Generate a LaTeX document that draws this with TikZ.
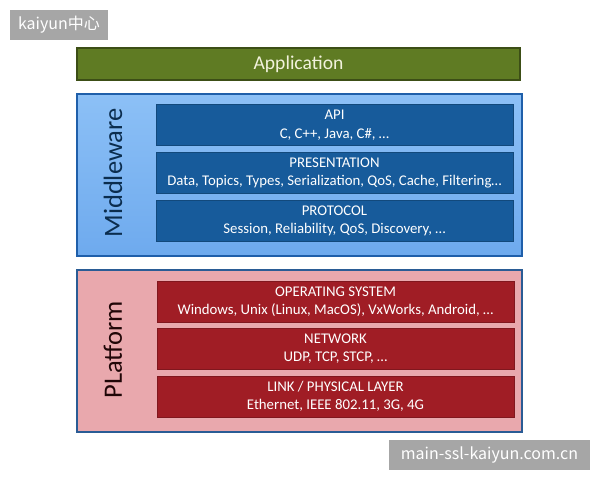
\documentclass[tikz,border=0pt]{standalone}
\usepackage{fontspec}
\setmainfont{Carlito}
\newfontfamily\cjk{Noto Sans CJK SC}
\definecolor{appfill}{HTML}{5F7B23}
\definecolor{appdraw}{HTML}{3C4E16}
\definecolor{mwfill}{HTML}{6EAAEE}
\definecolor{mwtop}{HTML}{8CC0F6}
\definecolor{mwdraw}{HTML}{1F5FAA}
\definecolor{bluebox}{HTML}{175B9B}
\definecolor{pffill}{HTML}{E9A8AD}
\definecolor{pfdraw}{HTML}{2A5C95}
\definecolor{redbox}{HTML}{A01D25}
\definecolor{wmgray}{HTML}{A6A6A6}
\definecolor{apptext}{HTML}{F2F2DC}
\tikzset{
  outerbox/.style={minimum width=445pt, minimum height=162pt, line width=1.5pt, inner sep=0pt},
  layerbox/.style={minimum width=357pt, minimum height=41pt, inner sep=0pt, align=center, text=white, font=\fontsize{14.8}{18.5}\selectfont},
  bluelayer/.style={layerbox, fill=bluebox, draw=bluebox!80!black, line width=0.4pt},
  redlayer/.style={layerbox, fill=redbox, draw=redbox!80!black, line width=0.4pt},
  sidelabel/.style={rotate=90, font=\fontsize{26.5}{28}\selectfont, inner sep=0pt},
  watermark/.style={fill=wmgray, text=white, inner sep=0pt, font=\cjk\fontsize{16}{18}\selectfont}
}
\begin{document}
\begin{tikzpicture}[x=1pt,y=-1pt]
\useasboundingbox (0,0) rectangle (600,480);
\fill[white] (0,0) rectangle (600,480);
% watermark top-left
\node[watermark, minimum width=98pt, minimum height=30pt] (wm1) at (59,25) {kaiyun中心};
% Application
\node[fill=appfill, draw=appdraw, line width=1.5pt, minimum width=443pt, minimum height=32pt, inner sep=0pt,
      text=apptext, font=\fontsize{19.6}{22}\selectfont] (app) at (298.5,64) {Application};
% Middleware
\node[outerbox, top color=mwtop, bottom color=mwfill, draw=mwdraw] (mw) at (299.5,175) {};
\node[sidelabel, text=bluebox!50!black] (mwlabel) at (113,173) {Middleware};
\node[bluelayer] (api) at (334.5,125) {API\\C, C++, Java, C\#, \dots};
\node[bluelayer] (pres) at (334.5,173) {PRESENTATION\\Data, Topics, Types, Serialization, QoS, Cache, Filtering\dots};
\node[bluelayer] (prot) at (334.5,221) {PROTOCOL\\Session, Reliability, QoS, Discovery, \dots};
% Platform
\node[outerbox, fill=pffill, draw=pfdraw] (pf) at (299.5,351) {};
\node[sidelabel, text=redbox!20!black] (pflabel) at (113,350) {PLatform};
\node[redlayer] (os) at (335.5,301.5) {OPERATING SYSTEM\\Windows, Unix (Linux, MacOS), VxWorks, Android, \dots};
\node[redlayer] (net) at (335.5,348.5) {NETWORK\\UDP, TCP, STCP, \dots};
\node[redlayer] (link) at (335.5,396.5) {LINK / PHYSICAL LAYER\\Ethernet, IEEE 802.11, 3G, 4G};
% watermark bottom-right
\node[watermark, minimum width=201pt, minimum height=30pt] (wm2) at (489.5,455) {main-ssl-kaiyun.com.cn};
\end{tikzpicture}
\end{document}
